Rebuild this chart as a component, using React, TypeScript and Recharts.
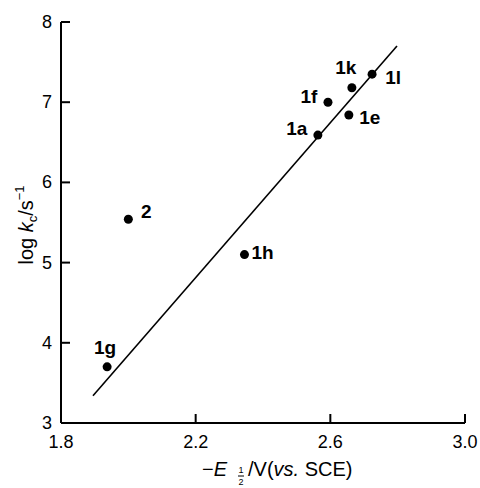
import React from 'react';
import { ScatterChart, Scatter, XAxis, YAxis, ReferenceLine } from 'recharts';

const compoundNames = ['2', '1h', '1g', '1a', '1f', '1e', '1k', '1l'];
const potentials = [2.0, 2.345, 1.937, 2.563, 2.593, 2.655, 2.664, 2.724];
const logKc = [5.54, 5.1, 3.7, 6.59, 7.0, 6.84, 7.18, 7.35];

const fitLineX = [1.895, 2.798];
const fitLineY = [3.34, 7.7];

const xTicks = [1.8, 2.2, 2.6, 3.0];
const yTicks = [3, 4, 5, 6, 7, 8];

const X_DOMAIN: [number, number] = [1.8, 3.0];
const Y_DOMAIN: [number, number] = [3, 8];

// chart geometry
const W = 480;
const H = 488;
const MARGIN = { top: 22, right: 15, bottom: 0, left: 0 };
const Y_AXIS_W = 61;
const X_AXIS_H = 65;
const PLOT_W = W - MARGIN.left - MARGIN.right - Y_AXIS_W;
const PLOT_H = H - MARGIN.top - MARGIN.bottom - X_AXIS_H;
const TICK_PX = 9;
const tickLenX = ((X_DOMAIN[1] - X_DOMAIN[0]) * TICK_PX) / PLOT_W;
const tickLenY = ((Y_DOMAIN[1] - Y_DOMAIN[0]) * TICK_PX) / PLOT_H;

// label placement relative to each point (pixels)
const labelOffsets: Record<string, [number, number]> = {
  '2': [18, -8],
  '1h': [18, -2],
  '1g': [-2, -19],
  '1a': [-21, -7],
  '1f': [-19, -6],
  '1e': [21, 2],
  '1k': [-6, -20],
  '1l': [21, 3],
};

const data = compoundNames.map((name, i) => ({ name, x: potentials[i], y: logKc[i] }));

const FONT = '"Liberation Sans", Arial, Helvetica, sans-serif';

const PointShape = (props: any) => {
  const { cx, cy, payload } = props;
  const off = labelOffsets[payload.name] || [15, 0];
  return (
    <g>
      <circle cx={cx} cy={cy} r={4.5} fill="#000" />
      <text
        x={cx + off[0]}
        y={cy + off[1]}
        textAnchor="middle"
        dominantBaseline="central"
        fontFamily={FONT}
        fontWeight="bold"
        fontSize={19}
        fill="#000"
      >
        {payload.name}
      </text>
    </g>
  );
};

const XTick = (props: any) => {
  const { x, y, payload } = props;
  return (
    <text x={x} y={y + 23} textAnchor="middle" fontFamily={FONT} fontSize={18} fill="#000">
      {Number(payload.value).toFixed(1)}
    </text>
  );
};

const YTick = (props: any) => {
  const { x, y, payload } = props;
  return (
    <text
      x={x - 7}
      y={y}
      textAnchor="end"
      dominantBaseline="central"
      fontFamily={FONT}
      fontSize={18}
      fill="#000"
    >
      {String(payload.value)}
    </text>
  );
};

const XLabel = (props: any) => {
  const vb = props.viewBox || { x: 61, y: 423, width: 404, height: 65 };
  const x0 = vb.x + 141;
  const by = 476;
  return (
    <g fontFamily={FONT} fill="#000">
      <text x={x0} y={by} fontSize={20}>
        <tspan>−</tspan>
        <tspan fontStyle="italic">E</tspan>
      </text>
      <text x={x0 + 39} y={by - 3} fontSize={9} textAnchor="middle">1</text>
      <path d={`M${x0 + 36},${by}H${x0 + 42}`} stroke="#000" strokeWidth={1} />
      <text x={x0 + 39} y={by + 9} fontSize={9} textAnchor="middle">2</text>
      <text x={x0 + 46} y={by} fontSize={20}>
        <tspan>/V(</tspan>
        <tspan fontStyle="italic">vs.</tspan>
        <tspan> SCE)</tspan>
      </text>
    </g>
  );
};

const YLabel = () => {
  const cx = 33;
  const cy = 225;
  return (
    <text
      x={cx}
      y={cy}
      transform={`rotate(-90 ${cx} ${cy})`}
      textAnchor="middle"
      fontFamily={FONT}
      fontSize={20}
      fill="#000"
    >
      <tspan>log </tspan>
      <tspan fontStyle="italic">k</tspan>
      <tspan fontSize={13} dy={4}>c</tspan>
      <tspan dy={-4}>/s</tspan>
      <tspan fontSize={13} dy={-9}>−1</tspan>
    </text>
  );
};

export default function App() {
  return (
    <div style={{ position: 'absolute', left: 0, top: 0 }}>
      <ScatterChart width={W} height={H} margin={MARGIN}>
        <XAxis
          type="number"
          dataKey="x"
          domain={X_DOMAIN}
          ticks={xTicks}
          height={X_AXIS_H}
          tickSize={0}
          tickLine={false}
          axisLine={{ stroke: '#000', strokeWidth: 2 }}
          tick={<XTick />}
          label={<XLabel />}
        />
        <YAxis
          type="number"
          dataKey="y"
          domain={Y_DOMAIN}
          ticks={yTicks}
          width={Y_AXIS_W}
          tickSize={0}
          tickLine={false}
          axisLine={{ stroke: '#000', strokeWidth: 2 }}
          tick={<YTick />}
          label={<YLabel />}
        />
        {xTicks.map((t) => (
          <ReferenceLine
            key={'xt' + t}
            segment={[
              { x: t, y: Y_DOMAIN[0] },
              { x: t, y: Y_DOMAIN[0] + tickLenY },
            ]}
            stroke="#000"
            strokeWidth={2}
            ifOverflow="visible"
          />
        ))}
        {yTicks.map((t) => (
          <ReferenceLine
            key={'yt' + t}
            segment={[
              { x: X_DOMAIN[0], y: t },
              { x: X_DOMAIN[0] + tickLenX, y: t },
            ]}
            stroke="#000"
            strokeWidth={2}
            ifOverflow="visible"
          />
        ))}
        <ReferenceLine
          segment={[
            { x: fitLineX[0], y: fitLineY[0] },
            { x: fitLineX[1], y: fitLineY[1] },
          ]}
          stroke="#000"
          strokeWidth={1.6}
          ifOverflow="visible"
        />
        <Scatter data={data} shape={<PointShape />} isAnimationActive={false} />
      </ScatterChart>
    </div>
  );
}
